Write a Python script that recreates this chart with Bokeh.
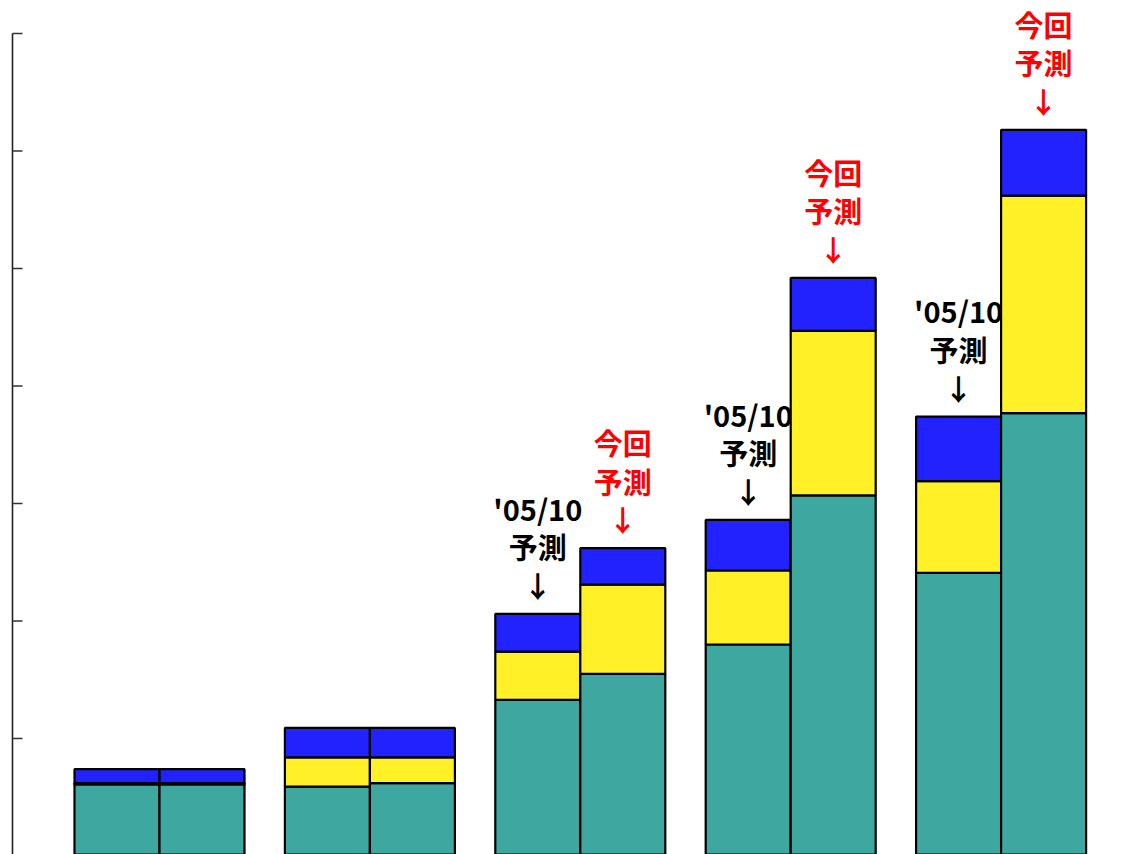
from bokeh.plotting import figure
from bokeh.models import ColumnDataSource, Range1d
from bokeh.transform import dodge
from bokeh.core.properties import value
from bokeh.embed import file_html
from bokeh.resources import INLINE

# ---- data (units = tick intervals) ----
groups = [0, 1, 2, 3, 4]
prev_base = [0.61, 0.59, 1.33, 1.80, 2.41]     # teal, '05/10 forecast bar
prev_mid = [0.01, 0.25, 0.41, 0.63, 0.78]      # yellow
prev_top = [0.12, 0.25, 0.32, 0.43, 0.55]      # blue
cur_base = [0.61, 0.62, 1.55, 3.07, 3.77]      # teal, current forecast bar
cur_mid = [0.01, 0.22, 0.76, 1.40, 1.85]       # yellow
cur_top = [0.12, 0.25, 0.31, 0.45, 0.56]       # blue
prev_labels = ["", "", "'05/10\n予測\n↓", "'05/10\n予測\n↓", "'05/10\n予測\n↓"]
cur_labels = ["", "", "今回\n予測\n↓", "今回\n予測\n↓", "今回\n予測\n↓"]
y_ticks = [1, 2, 3, 4, 5, 6, 7]

prev_total = [a + b + c for a, b, c in zip(prev_base, prev_mid, prev_top)]
cur_total = [a + b + c for a, b, c in zip(cur_base, cur_mid, cur_top)]

src = ColumnDataSource(dict(
    g=groups,
    pb=prev_base, pm=prev_mid, pt=prev_top,
    cb=cur_base, cm=cur_mid, ct=cur_top,
    ptot=prev_total, ctot=cur_total,
    plab=prev_labels, clab=cur_labels,
))

W, H = 1135, 854
p = figure(width=W, height=H, output_backend="svg", toolbar_location=None,
           x_axis_location=None, y_axis_location=None,
           x_range=Range1d(-0.7557, 4.6388), y_range=Range1d(0.0128, 7.281),
           min_border=0, outline_line_color=None, background_fill_color="white")
p.xgrid.grid_line_color = None
p.ygrid.grid_line_color = None

# axis (left) with inward ticks
ax_x = -0.6987
tick_x1 = -0.6511
p.segment(x0=[ax_x], y0=[0], x1=[ax_x], y1=[max(y_ticks)], line_color="#222222", line_width=1.6)
p.segment(x0=[ax_x] * len(y_ticks), y0=y_ticks, x1=[tick_x1] * len(y_ticks), y1=y_ticks,
          line_color="#333333", line_width=1.6)

# annotations (drawn beneath bars)
font = value("Noto Sans CJK JP")
p.text(x=dodge("g", -0.202, range=p.x_range), y="ptot", text="plab", source=src,
       text_font=font, text_font_style="bold", text_font_size="29px",
       text_color="black", text_align="center", text_baseline="bottom",
       text_line_height=0.92, y_offset=-8)
p.text(x=dodge("g", 0.202, range=p.x_range), y="ctot", text="clab", source=src,
       text_font=font, text_font_style="bold", text_font_size="29px",
       text_color="#ff0000", text_align="center", text_baseline="bottom",
       text_line_height=0.92, y_offset=-8)

fills = ["#3ea8a0", "#fff028", "#2222ff"]
hatch_pats = ["checker", None, "checker"]
hatch_cols = ["#2f948d", None, "#4a4aff"]

for stack, off in ((["pb", "pm", "pt"], -0.202), (["cb", "cm", "ct"], 0.202)):
    rs = p.vbar_stack(stack, x=dodge("g", off, range=p.x_range), width=0.404, source=src,
                      fill_color=fills, line_color="black", line_width=2.2)
    for r, hp, hc in zip(rs, hatch_pats, hatch_cols):
        if hp:
            r.glyph.hatch_pattern = hp
            r.glyph.hatch_color = hc
            r.glyph.hatch_scale = 3
            r.glyph.hatch_weight = 1

open("out.html", "w").write(file_html(p, INLINE))
